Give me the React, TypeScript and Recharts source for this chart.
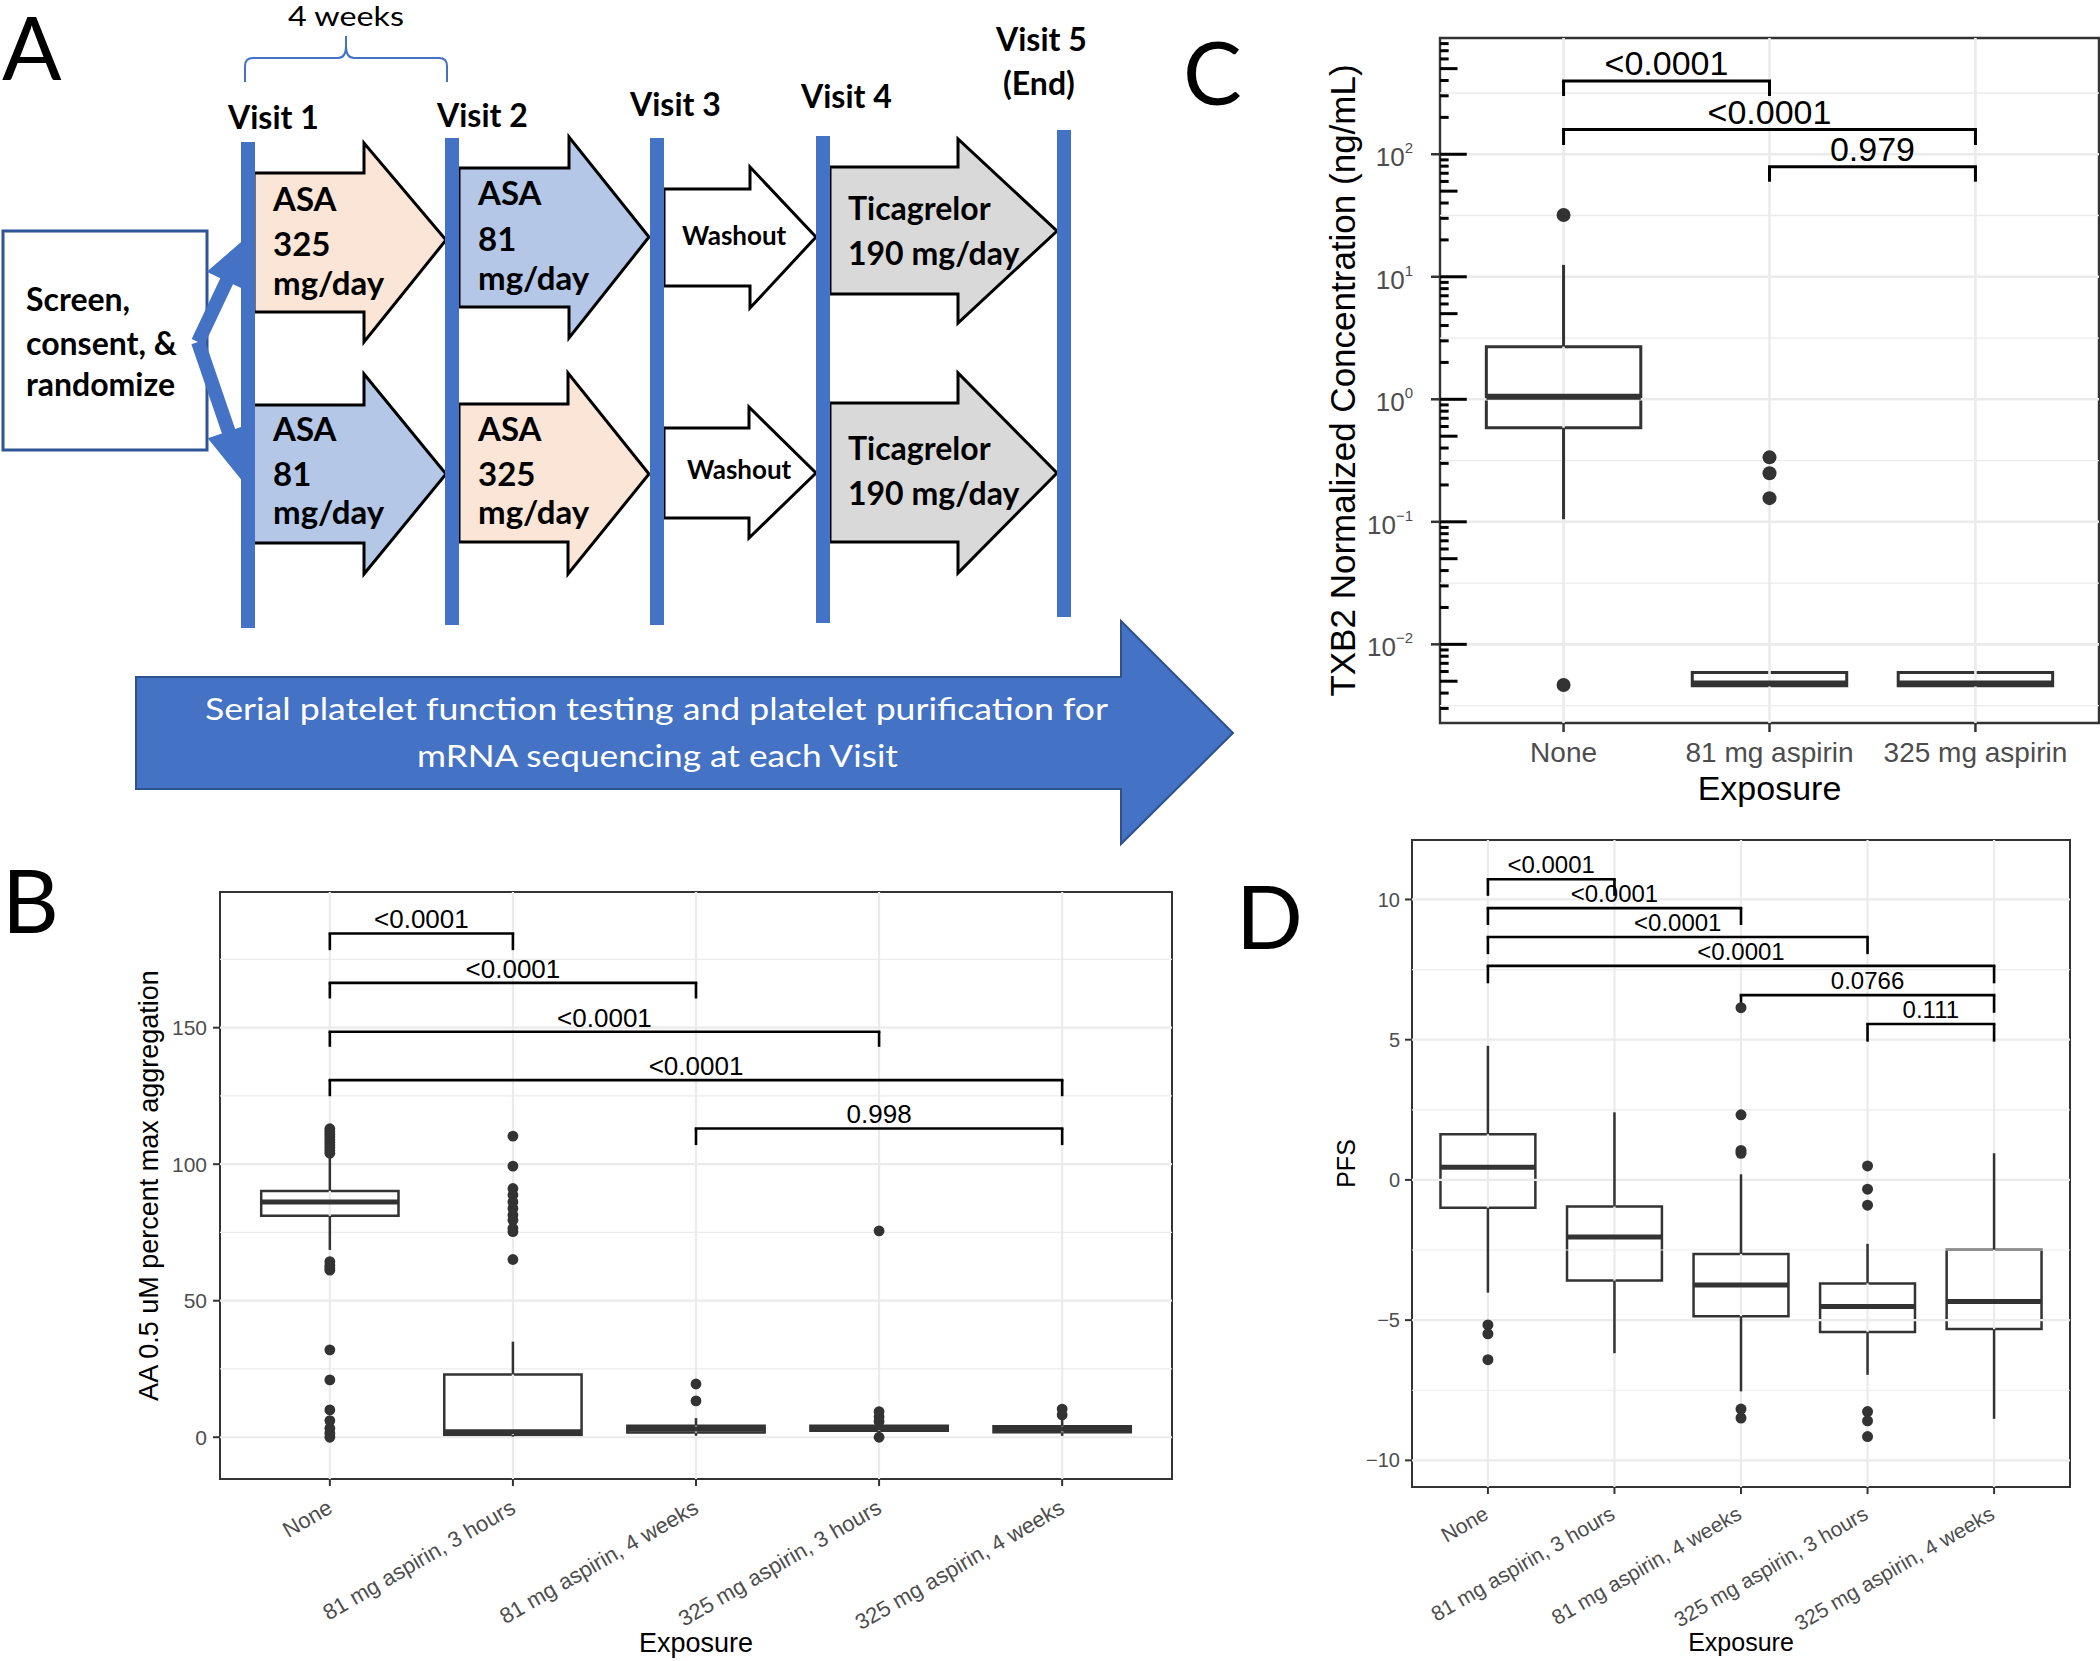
import React from 'react';
import { ComposedChart, XAxis, YAxis, Scatter, ReferenceLine, ReferenceArea, ReferenceDot } from 'recharts';

const FONT = '"Liberation Sans", Arial, Helvetica, sans-serif';
const DFONT = 'Lato, "Noto Sans", sans-serif';
const INK = '#333333';
const TICK_TXT = '#4D4D4D';
const GRID = '#EBEBEB';
const BAR_BLUE = '#4472C4';
const PEACH = '#FBE5D6';
const LIGHT_BLUE = '#B4C7E7';
const GREY_ARROW = '#D9D9D9';

// ---------------- Panel B data ----------------
const bCategories = ['None', '81 mg aspirin, 3 hours', '81 mg aspirin, 4 weeks', '325 mg aspirin, 3 hours', '325 mg aspirin, 4 weeks'];
const bLow = [68.6, 0.2, 0.5, 1.2, 0.5];
const bQ1 = [81.1, 0.8, 1.7, 2.4, 1.8];
const bMedian = [86.2, 2.0, 3.0, 3.5, 3.0];
const bQ3 = [90.2, 23.0, 4.2, 4.2, 4.0];
const bHigh = [102.7, 35.0, 7.0, 5.2, 6.5];
const bOutliers = [
  [104, 105, 106, 107, 108, 109, 110, 111, 112, 113, 61.2, 62, 63, 64.3, 32, 21, 10, 6.1, 3.3, 1.5, 0],
  [110.3, 99.3, 91.1, 88.7, 86.2, 83.8, 81.4, 79.5, 76.5, 75.3, 65.1],
  [19.5, 13.3],
  [75.6, 9.4, 7.5, 5.8, 0],
  [10.3, 8.2],
];
const bYTicks = [0, 50, 100, 150];
const bYMinor = [25, 75, 125, 175];
const bYDomain: [number, number] = [-15.3, 199.7];
const bBrackets = [
  { from: 1, to: 2, y: 184.5, end: 178.4, label: '<0.0001' },
  { from: 1, to: 3, y: 166.4, end: 160.7, label: '<0.0001' },
  { from: 1, to: 4, y: 148.5, end: 143.0, label: '<0.0001' },
  { from: 1, to: 5, y: 130.8, end: 124.9, label: '<0.0001' },
  { from: 3, to: 5, y: 113.1, end: 107.0, label: '0.998' },
];

// ---------------- Panel C data ----------------
const cCategories = ['None', '81 mg aspirin', '325 mg aspirin'];
const cLow = [0.105, 0.0046, 0.0046];
const cQ1 = [0.586, 0.0046, 0.0046];
const cMedian = [1.05, 0.0048, 0.0048];
const cQ3 = [2.69, 0.0059, 0.0059];
const cHigh = [12.5, 0.0059, 0.0059];
const cOutliers = [[31.9, 0.00466], [0.336, 0.249, 0.156], []];
const cYTicks = [0.01, 0.1, 1, 10, 100];
const cYMinor = [0.00316, 0.0316, 0.316, 3.16, 31.6, 316];
const cYDomain: [number, number] = [0.00228, 889];
const cLogDecades = [0.001, 0.01, 0.1, 1, 10, 100];
const cLogSteps = [1, 2, 3, 4, 5, 6, 7, 8, 9];
const cBrackets = [
  { from: 1, to: 2, y: 396, end: 299, label: '<0.0001' },
  { from: 1, to: 3, y: 159, end: 119, label: '<0.0001' },
  { from: 2, to: 3, y: 79.2, end: 59.7, label: '0.979' },
];

// ---------------- Panel D data ----------------
const dCategories = ['None', '81 mg aspirin, 3 hours', '81 mg aspirin, 4 weeks', '325 mg aspirin, 3 hours', '325 mg aspirin, 4 weeks'];
const dLow = [-4.02, -6.18, -7.54, -6.95, -8.52];
const dQ1 = [-0.99, -3.59, -4.86, -5.42, -5.32];
const dMedian = [0.45, -2.04, -3.75, -4.51, -4.34];
const dQ3 = [1.63, -0.95, -2.64, -3.69, -2.49];
const dHigh = [4.78, 2.41, 0.2, -2.28, 0.95];
const dOutliers = [
  [-5.17, -5.49, -6.41],
  [],
  [6.14, 2.32, 1.05, 0.95, -8.17, -8.49],
  [0.5, -0.33, -0.9, -8.26, -8.59, -9.15],
  [],
];
const dYTicks = [-10, -5, 0, 5, 10];
const dYMinor = [-7.5, -2.5, 2.5, 7.5];
const dYDomain: [number, number] = [-10.95, 12.12];
const dBrackets = [
  { from: 1, to: 2, y: 10.72, end: 10.13, label: '<0.0001' },
  { from: 1, to: 3, y: 9.69, end: 9.09, label: '<0.0001' },
  { from: 1, to: 4, y: 8.66, end: 8.05, label: '<0.0001' },
  { from: 1, to: 5, y: 7.63, end: 7.01, label: '<0.0001' },
  { from: 3, to: 5, y: 6.59, end: 5.96, label: '0.0766' },
  { from: 4, to: 5, y: 5.56, end: 4.93, label: '0.111' },
];

// ---------------- helpers ----------------
type Bracket = { from: number; to: number; y: number; end: number; label: string };

function toPoints(outliers: number[][]) {
  const pts: { x: number; y: number }[] = [];
  outliers.forEach((arr, i) => arr.forEach((v) => pts.push({ x: i + 1, y: v })));
  return pts;
}

function gridLayers(n: number, major: number[], minor: number[], wMajor: number, wMinor: number) {
  const els: any[] = [];
  minor.forEach((v) => els.push(<ReferenceLine key={`gm${v}`} y={v} stroke={GRID} strokeWidth={wMinor} ifOverflow="visible" />));
  major.forEach((v) => els.push(<ReferenceLine key={`gM${v}`} y={v} stroke={GRID} strokeWidth={wMajor} ifOverflow="visible" />));
  for (let i = 1; i <= n; i++) els.push(<ReferenceLine key={`gv${i}`} x={i} stroke={GRID} strokeWidth={wMajor} ifOverflow="visible" />);
  return els;
}

function boxLayers(low: number[], q1: number[], med: number[], q3: number[], high: number[], half: number, lw: number, mw: number) {
  const els: any[] = [];
  q1.forEach((_, i) => {
    const x = i + 1;
    if (high[i] > q3[i]) els.push(<ReferenceLine key={`wh${i}`} segment={[{ x, y: q3[i] }, { x, y: high[i] }]} stroke={INK} strokeWidth={lw} ifOverflow="visible" />);
    if (low[i] < q1[i]) els.push(<ReferenceLine key={`wl${i}`} segment={[{ x, y: low[i] }, { x, y: q1[i] }]} stroke={INK} strokeWidth={lw} ifOverflow="visible" />);
    els.push(<ReferenceArea key={`bx${i}`} x1={x - half} x2={x + half} y1={q1[i]} y2={q3[i]} fill="#FFFFFF" fillOpacity={1} stroke={INK} strokeWidth={lw} ifOverflow="visible" />);
    els.push(<ReferenceLine key={`md${i}`} segment={[{ x: x - half, y: med[i] }, { x: x + half, y: med[i] }]} stroke={INK} strokeWidth={mw} ifOverflow="visible" />);
  });
  return els;
}

function bracketLayers(brackets: Bracket[], lw: number, fontSize: number, gap: number) {
  const els: any[] = [];
  brackets.forEach((b, k) => {
    els.push(<ReferenceLine key={`bh${k}`} segment={[{ x: b.from, y: b.y }, { x: b.to, y: b.y }]} stroke="#000" strokeWidth={lw} strokeLinecap="square" ifOverflow="visible" />);
    els.push(<ReferenceLine key={`bl${k}`} segment={[{ x: b.from, y: b.end }, { x: b.from, y: b.y }]} stroke="#000" strokeWidth={lw} ifOverflow="visible" />);
    els.push(<ReferenceLine key={`br${k}`} segment={[{ x: b.to, y: b.end }, { x: b.to, y: b.y }]} stroke="#000" strokeWidth={lw} ifOverflow="visible" />);
    els.push(
      <ReferenceDot key={`bt${k}`} x={(b.from + b.to) / 2} y={b.y} r={0} fill="none" stroke="none" ifOverflow="visible"
        label={{ value: b.label, position: 'top', offset: gap, fill: '#000', fontSize, fontFamily: FONT }} />
    );
  });
  return els;
}

function dotShape(r: number) {
  return (p: any) => <circle cx={p.cx} cy={p.cy} r={r} fill={INK} />;
}

function rotTick(labels: string[], fontSize: number, dx: number, dy: number) {
  return (p: any) => {
    const x = p.x + dx;
    const y = p.y + dy;
    const idx = Math.round(p.payload.value) - 1;
    return (
      <text x={x} y={y} textAnchor="end" fill={TICK_TXT} fontSize={fontSize} fontFamily={FONT} transform={`rotate(-30 ${x} ${y})`}>
        {labels[idx]}
      </text>
    );
  };
}

const LogTick = (p: any) => {
  const exp = Math.round(Math.log10(p.payload.value));
  const expStr = exp < 0 ? '\u2212' + Math.abs(exp) : String(exp);
  return (
    <text x={p.x - 18} y={p.y + 12} textAnchor="end" fill={TICK_TXT} fontSize={26} fontFamily={FONT}>
      10<tspan dy={-13} fontSize={15}>{expStr}</tspan>
    </text>
  );
};

const minusFmt = (v: number) => (v < 0 ? '\u2212' + Math.abs(v) : String(v));

// ---------------- Charts ----------------
function ChartB() {
  const n = bCategories.length;
  return (
    <ComposedChart width={1180} height={801} margin={{ top: 32, right: 8, bottom: 0, left: 0 }}>
      <XAxis type="number" dataKey="x" domain={[0.4, n + 0.6]} ticks={[1, 2, 3, 4, 5]} interval={0} allowDataOverflow
        axisLine={false} tickLine={{ stroke: INK, strokeWidth: 2 }} tickSize={7} tickMargin={0} height={182}
        tick={rotTick(bCategories, 22, 4, 26)} />
      <YAxis type="number" dataKey="y" domain={bYDomain} ticks={bYTicks} interval={0} allowDataOverflow
        axisLine={false} tickLine={{ stroke: INK, strokeWidth: 2 }} tickSize={7} tickMargin={6} width={220}
        tick={{ fill: TICK_TXT, fontSize: 21, fontFamily: FONT }} />
      {gridLayers(n, bYTicks, bYMinor, 2.2, 1.2)}
      {boxLayers(bLow, bQ1, bMedian, bQ3, bHigh, 0.375, 2.5, 5)}
      <Scatter data={toPoints(bOutliers)} isAnimationActive={false} shape={dotShape(5.4)} />
      {bracketLayers(bBrackets, 2.6, 26, 5)}
      <ReferenceArea x1={0.4} x2={n + 0.6} y1={bYDomain[0]} y2={bYDomain[1]} fill="none" stroke={INK} strokeWidth={2} ifOverflow="visible" />
    </ComposedChart>
  );
}

function ChartC() {
  const n = cCategories.length;
  const logTicks: any[] = [];
  cLogDecades.forEach((d) =>
    cLogSteps.forEach((m) => {
      const v = d * m;
      if (v < cYDomain[0] || v > cYDomain[1]) return;
      const len = m === 1 ? 0.13 : m === 5 ? 0.085 : 0.042;
      logTicks.push(<ReferenceLine key={`lt${d}-${m}`} segment={[{ x: 0.4, y: v }, { x: 0.4 + len, y: v }]} stroke="#000" strokeWidth={3} ifOverflow="visible" />);
    })
  );
  return (
    <ComposedChart width={800} height={850} margin={{ top: 38, right: 1, bottom: 0, left: 0 }}>
      <XAxis type="number" dataKey="x" domain={[0.4, n + 0.6]} ticks={[1, 2, 3]} interval={0} allowDataOverflow
        axisLine={false} tickLine={{ stroke: INK, strokeWidth: 2.5 }} tickSize={9} tickMargin={10} height={127}
        tickFormatter={(v: number) => cCategories[Math.round(v) - 1]}
        tick={{ fill: TICK_TXT, fontSize: 28, fontFamily: FONT }} />
      <YAxis type="number" dataKey="y" scale="log" domain={cYDomain} ticks={cYTicks} interval={0} allowDataOverflow
        axisLine={false} tickLine={{ stroke: INK, strokeWidth: 2.5 }} tickSize={9} tickMargin={0} width={140}
        tick={LogTick} />
      {gridLayers(n, cYTicks, cYMinor, 2.6, 1.4)}
      {boxLayers(cLow, cQ1, cMedian, cQ3, cHigh, 0.375, 3, 6)}
      <Scatter data={toPoints(cOutliers)} isAnimationActive={false} shape={dotShape(7)} />
      {logTicks}
      {bracketLayers(cBrackets, 3, 34, 6)}
      <ReferenceArea x1={0.4} x2={n + 0.6} y1={cYDomain[0]} y2={cYDomain[1]} fill="none" stroke={INK} strokeWidth={2.4} ifOverflow="visible" />
    </ComposedChart>
  );
}

function ChartD() {
  const n = dCategories.length;
  return (
    <ComposedChart width={860} height={831} margin={{ top: 10, right: 30, bottom: 0, left: 0 }}>
      <XAxis type="number" dataKey="x" domain={[0.4, n + 0.6]} ticks={[1, 2, 3, 4, 5]} interval={0} allowDataOverflow
        axisLine={false} tickLine={{ stroke: INK, strokeWidth: 2 }} tickSize={7} tickMargin={0} height={174}
        tick={rotTick(dCategories, 21, 2, 24)} />
      <YAxis type="number" dataKey="y" domain={dYDomain} ticks={dYTicks} interval={0} allowDataOverflow
        axisLine={false} tickLine={{ stroke: INK, strokeWidth: 2 }} tickSize={7} tickMargin={5} width={172}
        tickFormatter={minusFmt}
        tick={{ fill: TICK_TXT, fontSize: 20, fontFamily: FONT }} />
      {gridLayers(n, dYTicks, dYMinor, 2.2, 1.2)}
      {boxLayers(dLow, dQ1, dMedian, dQ3, dHigh, 0.375, 2.5, 5)}
      <Scatter data={toPoints(dOutliers)} isAnimationActive={false} shape={dotShape(5.5)} />
      {bracketLayers(dBrackets, 2.6, 24, 6)}
      <ReferenceArea x1={0.4} x2={n + 0.6} y1={dYDomain[0]} y2={dYDomain[1]} fill="none" stroke={INK} strokeWidth={2} ifOverflow="visible" />
    </ComposedChart>
  );
}

// ---------------- Panel A diagram ----------------
function arrowPath(x0: number, yTop: number, yBot: number, hx: number, hTop: number, hBot: number, tx: number, ty: number) {
  return `M${x0},${yTop} L${hx},${yTop} L${hx},${hTop} L${tx},${ty} L${hx},${hBot} L${hx},${yBot} L${x0},${yBot} Z`;
}

function slantArrow(vx: number, vy: number, tx: number, ty: number, sh: number, hl: number, hh: number) {
  const dx = tx - vx, dy = ty - vy;
  const L = Math.hypot(dx, dy);
  const ux = dx / L, uy = dy / L;
  const nx = -uy, ny = ux;
  const hx = tx - ux * hl, hy = ty - uy * hl;
  const pts = [
    [vx + nx * sh, vy + ny * sh], [hx + nx * sh, hy + ny * sh], [hx + nx * hh, hy + ny * hh], [tx, ty],
    [hx - nx * hh, hy - ny * hh], [hx - nx * sh, hy - ny * sh], [vx - nx * sh, vy - ny * sh],
  ];
  return pts.map((p) => p.join(',')).join(' ');
}

function PanelA() {
  const boldTxt = (x: number, y: number, s: string, size: number) => (
    <text x={x} y={y} fontSize={size} fontWeight={700} fontFamily={DFONT} fill="#000">{s}</text>
  );
  return (
    <svg width={1300} height={860} style={{ position: 'absolute', left: 0, top: 0 }}>
      {/* brace */}
      <path d="M245,82 L245,66 Q245,58 253,58 L338,58 Q346,58 346,46 L346,36 M346,36 L346,46 Q346,58 354,58 L439,58 Q447,58 447,66 L447,82"
        fill="none" stroke={BAR_BLUE} strokeWidth={2} />
      <text x={288} y={26} fontSize={26} fontFamily={DFONT} fill="#000" textLength={116} lengthAdjust="spacingAndGlyphs">4 weeks</text>

      {boldTxt(228, 129, 'Visit 1', 32)}
      {boldTxt(437, 127, 'Visit 2', 32)}
      {boldTxt(630, 116, 'Visit 3', 32)}
      {boldTxt(801, 108, 'Visit 4', 32)}
      {boldTxt(996, 51, 'Visit 5', 32)}
      {boldTxt(1003, 95, '(End)', 32)}

      {/* Screen box */}
      <rect x={3} y={231} width={204} height={219} fill="#fff" stroke="#2F5597" strokeWidth={3} />
      {boldTxt(26, 311, 'Screen,', 32)}
      {boldTxt(26, 355, 'consent, &', 32)}
      {boldTxt(26, 396, 'randomize', 32)}

      {/* split arrows */}
      <polygon points={slantArrow(198, 342, 248, 236, 7, 50, 22)} fill={BAR_BLUE} />
      <polygon points={slantArrow(198, 342, 248, 488, 7, 60, 22)} fill={BAR_BLUE} />

      {/* row 1 arrows */}
      <path d={arrowPath(254, 173, 312, 364, 143, 342, 446, 240)} fill={PEACH} stroke="#000" strokeWidth={3} strokeLinejoin="miter" />
      <path d={arrowPath(459, 168, 307, 569, 137, 338, 649, 237)} fill={LIGHT_BLUE} stroke="#000" strokeWidth={3} />
      <path d={arrowPath(664, 189, 286, 750, 167, 308, 816, 237)} fill="#FFFFFF" stroke="#000" strokeWidth={3} />
      <path d={arrowPath(830, 167, 294, 958, 139, 323, 1057, 231)} fill={GREY_ARROW} stroke="#000" strokeWidth={3} />
      {/* row 2 arrows */}
      <path d={arrowPath(248, 405, 543, 364, 374, 574, 446, 474)} fill={LIGHT_BLUE} stroke="#000" strokeWidth={3} />
      <path d={arrowPath(459, 404, 542, 568, 373, 574, 649, 474)} fill={PEACH} stroke="#000" strokeWidth={3} />
      <path d={arrowPath(664, 428, 518, 749, 407, 538, 816, 473)} fill="#FFFFFF" stroke="#000" strokeWidth={3} />
      <path d={arrowPath(830, 403, 542, 958, 373, 573, 1057, 473)} fill={GREY_ARROW} stroke="#000" strokeWidth={3} />

      {/* visit bars */}
      <rect x={241} y={142} width={14} height={486} fill={BAR_BLUE} />
      <rect x={445} y={138} width={14} height={487} fill={BAR_BLUE} />
      <rect x={650} y={138} width={14} height={487} fill={BAR_BLUE} />
      <rect x={816} y={136} width={14} height={487} fill={BAR_BLUE} />
      <rect x={1057} y={130} width={14} height={487} fill={BAR_BLUE} />

      {/* arrow texts row 1 */}
      {boldTxt(273, 211, 'ASA', 33)}
      {boldTxt(273, 256, '325', 33)}
      {boldTxt(273, 295, 'mg/day', 33)}
      {boldTxt(478, 205, 'ASA', 33)}
      {boldTxt(478, 251, '81', 33)}
      {boldTxt(478, 290, 'mg/day', 33)}
      {boldTxt(682, 245, 'Washout', 26)}
      {boldTxt(848, 220, 'Ticagrelor', 32)}
      {boldTxt(848, 265, '190 mg/day', 32)}
      {/* row 2 */}
      {boldTxt(273, 441, 'ASA', 33)}
      {boldTxt(273, 486, '81', 33)}
      {boldTxt(273, 524, 'mg/day', 33)}
      {boldTxt(478, 441, 'ASA', 33)}
      {boldTxt(478, 486, '325', 33)}
      {boldTxt(478, 524, 'mg/day', 33)}
      {boldTxt(687, 479, 'Washout', 26)}
      {boldTxt(848, 460, 'Ticagrelor', 32)}
      {boldTxt(848, 505, '190 mg/day', 32)}

      {/* big bottom arrow */}
      <path d={arrowPath(136, 677, 789, 1121, 621, 844, 1233, 733)} fill={BAR_BLUE} stroke="#2F528F" strokeWidth={2} />
      <text x={205} y={720} fontSize={30} fontFamily={DFONT} fill="#fff" textLength={903} lengthAdjust="spacingAndGlyphs">Serial platelet function testing and platelet purification for</text>
      <text x={417} y={767} fontSize={30} fontFamily={DFONT} fill="#fff" textLength={481} lengthAdjust="spacingAndGlyphs">mRNA sequencing at each Visit</text>
    </svg>
  );
}

function Overlay() {
  const letter = (x: number, y: number, s: string) => (
    <text x={x} y={y} fontSize={88} fontFamily={DFONT} fill="#000">{s}</text>
  );
  return (
    <svg width={2100} height={1661} style={{ position: 'absolute', left: 0, top: 0, pointerEvents: 'none' }}>
      {letter(2, 80, 'A')}
      {letter(1183, 105, 'C')}
      {letter(2, 933, 'B')}
      {letter(1236, 949, 'D')}
      {/* C titles */}
      <text transform="translate(1355,380.5) rotate(-90)" textAnchor="middle" fontSize={35} fontFamily={FONT} fill="#000">TXB2 Normalized Concentration (ng/mL)</text>
      <text x={1769.5} y={800} textAnchor="middle" fontSize={34} fontFamily={FONT} fill="#000">Exposure</text>
      {/* B titles */}
      <text transform="translate(158,1185.5) rotate(-90)" textAnchor="middle" fontSize={27} fontFamily={FONT} fill="#000">AA 0.5 uM percent max aggregation</text>
      <text x={696} y={1652} textAnchor="middle" fontSize={27} fontFamily={FONT} fill="#000">Exposure</text>
      {/* D titles */}
      <text transform="translate(1355,1163.5) rotate(-90)" textAnchor="middle" fontSize={25} fontFamily={FONT} fill="#000">PFS</text>
      <text x={1741} y={1651} textAnchor="middle" fontSize={25} fontFamily={FONT} fill="#000">Exposure</text>
    </svg>
  );
}

export default function App() {
  return (
    <div style={{ position: 'absolute', left: 0, top: 0, width: 2100, height: 1661, background: '#fff', overflow: 'hidden', fontFamily: FONT }}>
      <PanelA />
      <div style={{ position: 'absolute', left: 1300, top: 0 }}>
        <ChartC />
      </div>
      <div style={{ position: 'absolute', left: 0, top: 860 }}>
        <ChartB />
      </div>
      <div style={{ position: 'absolute', left: 1240, top: 830 }}>
        <ChartD />
      </div>
      <Overlay />
    </div>
  );
}
